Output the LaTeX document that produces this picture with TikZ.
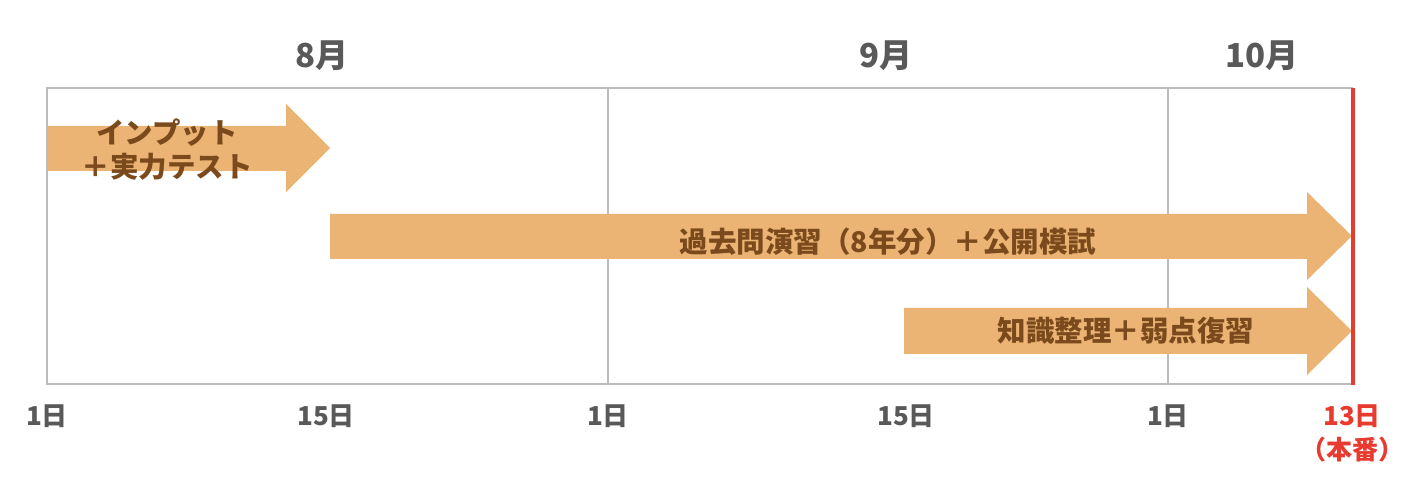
\documentclass[tikz,border=0pt]{standalone}
\usepackage{fontspec}
\setmainfont{Noto Sans CJK JP}
\definecolor{grid}{HTML}{BDBDBD}
\definecolor{lbl}{HTML}{595959}
\definecolor{arr}{HTML}{EBB474}
\definecolor{arrtxt}{HTML}{7A4A1C}
\definecolor{redl}{HTML}{E63B2E}
\tikzset{
  gridline/.style={draw=grid, line width=1.5pt},
  arrowshape/.style={fill=arr, draw=none},
  monthlbl/.style={font=\fontsize{33}{36}\selectfont\bfseries, text=lbl, inner sep=0pt},
  daylbl/.style={font=\fontsize{26}{30}\selectfont\bfseries, text=lbl, inner sep=0pt},
  redlbl/.style={font=\fontsize{26}{30}\selectfont\bfseries, text=redl, inner sep=0pt},
  arrlbl/.style={font=\fontsize{28.5}{34}\selectfont\bfseries, text=arrtxt, inner sep=0pt, align=center},
}
\begin{document}
\begin{tikzpicture}[x=1pt,y=-1pt]
\useasboundingbox (0,0) rectangle (1428,494);
% frame
\draw[gridline] (47,88) rectangle (1352,384);
\draw[gridline] (608,88) -- (608,384);
\draw[gridline] (1168,88) -- (1168,384);
% arrows
\fill[arrowshape] (47,126) -- (286,126) -- (286,104) -- (330,148) -- (286,192) -- (286,171) -- (47,171) -- cycle;
\fill[arrowshape] (330,214) -- (1307,214) -- (1307,192) -- (1352,236) -- (1307,280) -- (1307,259) -- (330,259) -- cycle;
\fill[arrowshape] (904,308) -- (1307,308) -- (1307,287) -- (1352,331) -- (1307,375) -- (1307,354) -- (904,354) -- cycle;
% red line
\draw[redl, line width=4pt] (1353,88) -- (1353,385);
% arrow labels
\node[arrlbl] (t1) at (167,150) {インプット\\＋実力テスト};
\node[arrlbl] (t2) at (888,242) {過去問演習（8年分）＋公開模試};
\node[arrlbl] (t3) at (1126,331) {知識整理＋弱点復習};
% month labels
\node[monthlbl] (m8) at (322,56) {8月};
\node[monthlbl] (m9) at (886,56) {9月};
\node[monthlbl] (m10) at (1262,56) {10月};
% day labels
\node[daylbl] (d1) at (47,416) {1日};
\node[daylbl] (d2) at (326,416) {15日};
\node[daylbl] (d3) at (608,416) {1日};
\node[daylbl] (d4) at (906,416) {15日};
\node[daylbl] (d5) at (1168,416) {1日};
\node[redlbl] (d6) at (1352,416) {13日};
\node[redlbl] (d7) at (1352,450) {（本番）};
\end{tikzpicture}
\end{document}
